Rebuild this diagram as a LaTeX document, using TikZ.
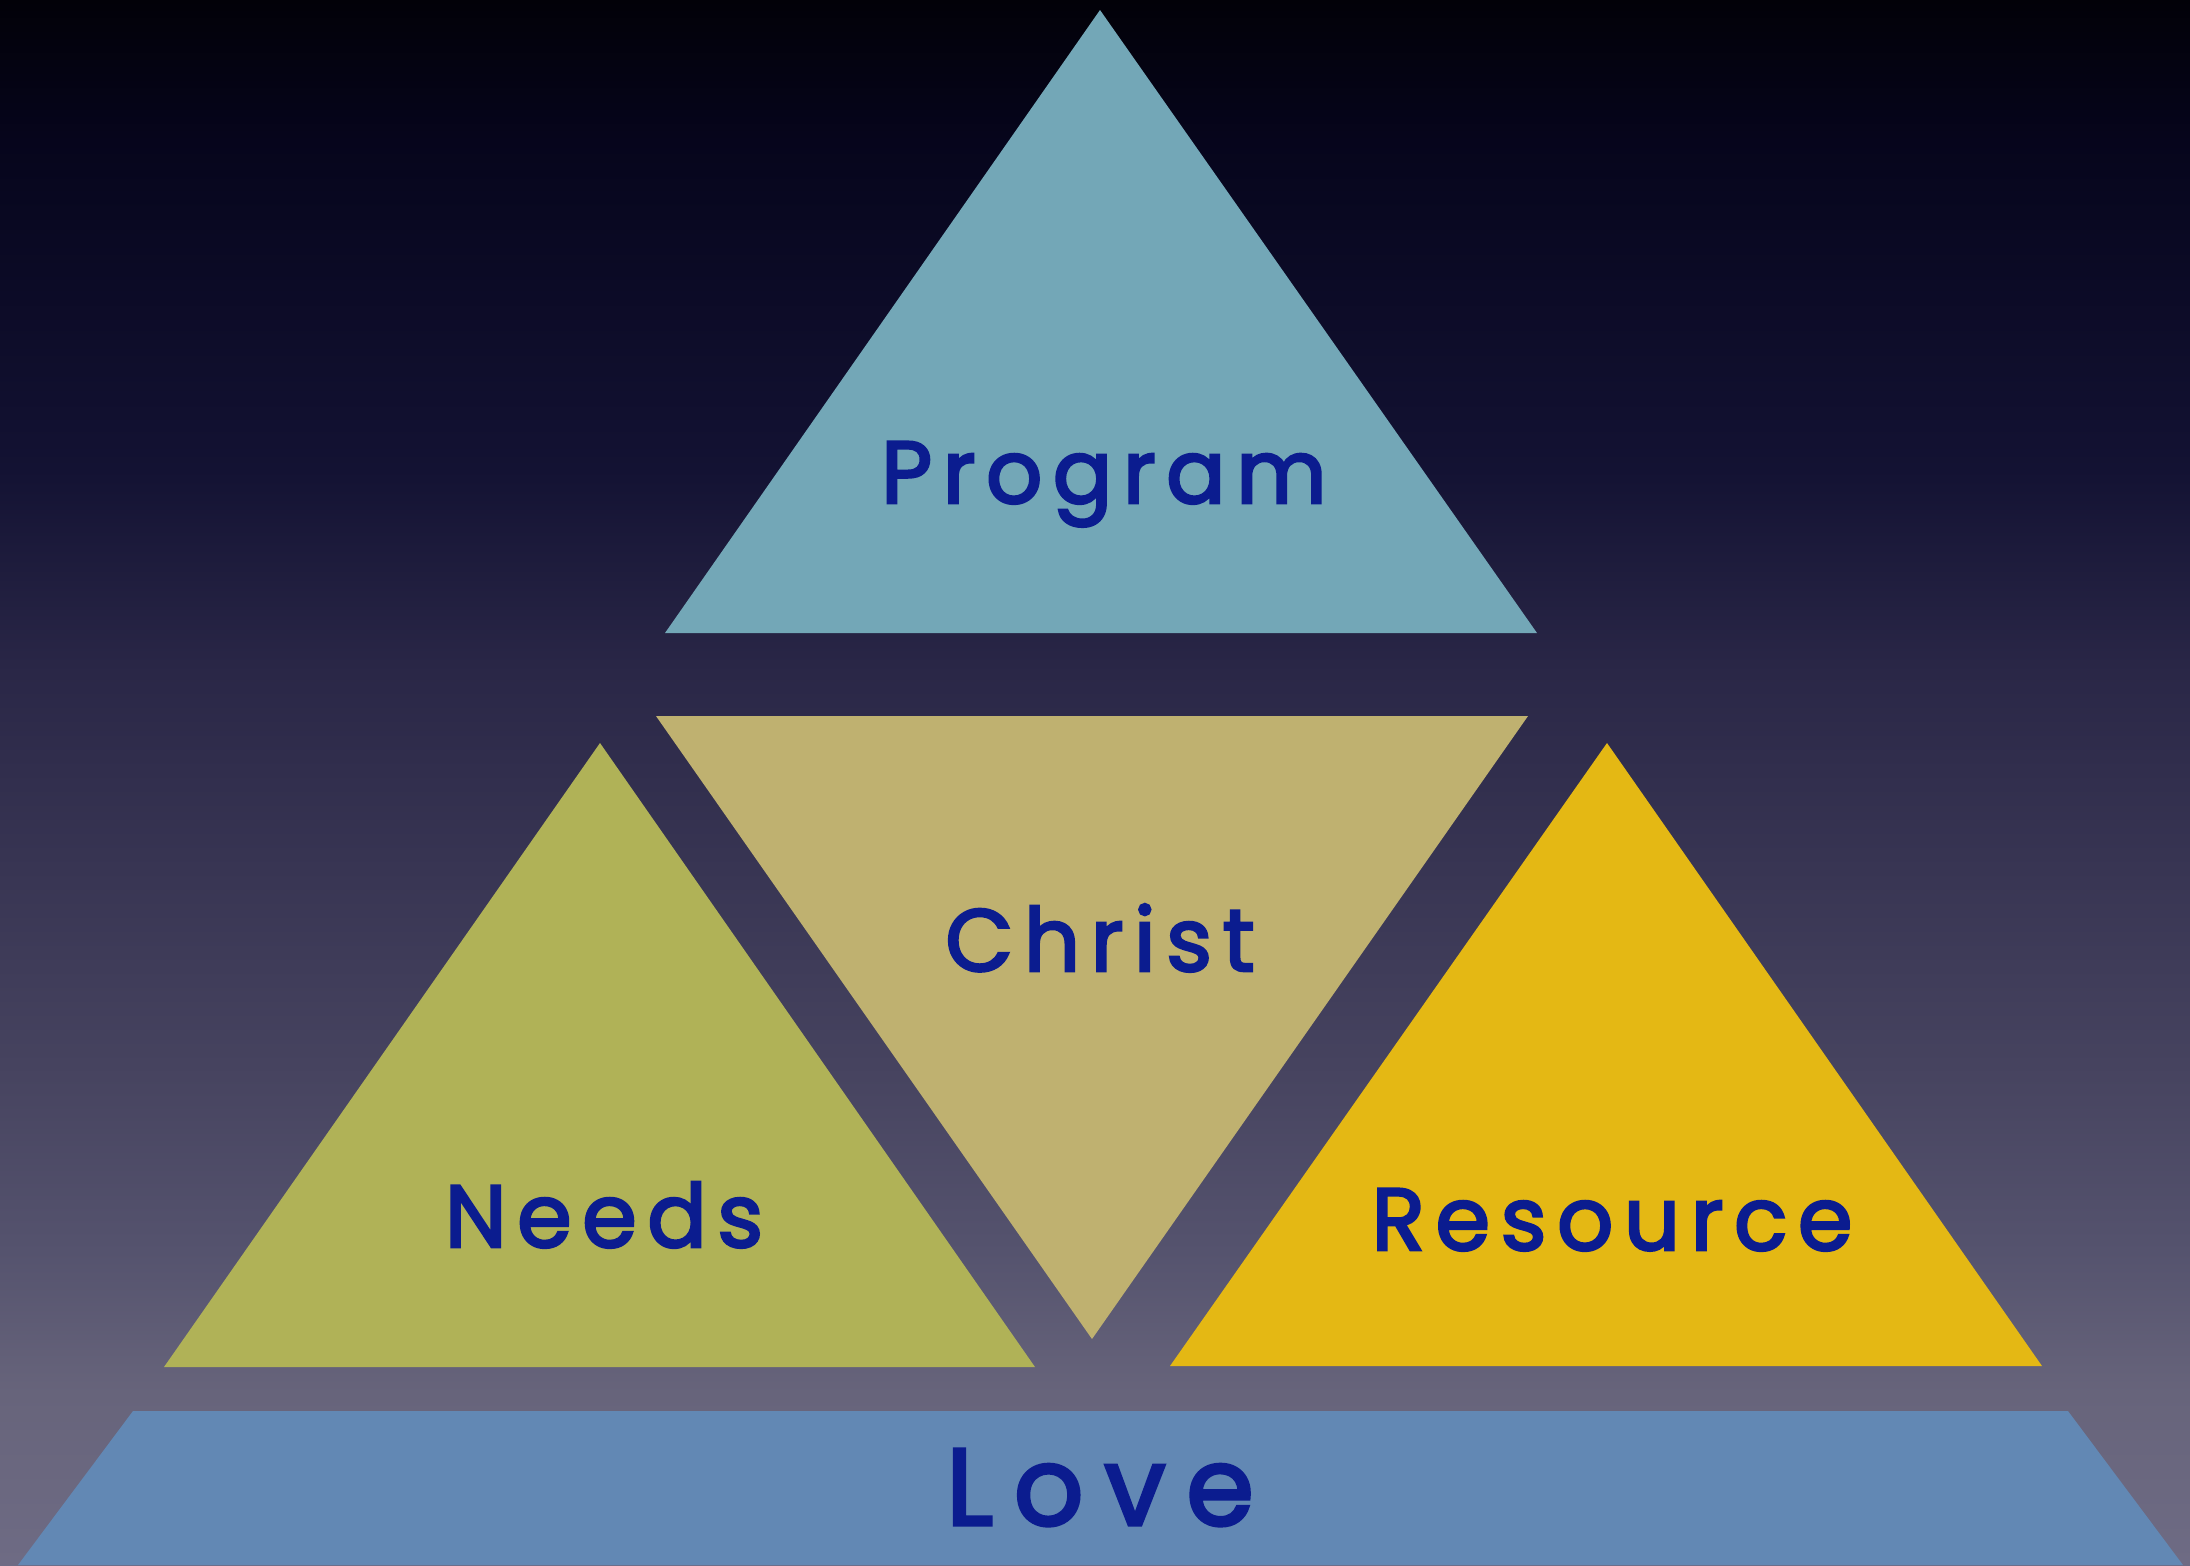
\documentclass[tikz,border=0pt]{standalone}
\usepackage{fontspec}
\setmainfont{Poppins}
\usepackage{tikz}
\usetikzlibrary{calc}

\definecolor{progblue}{HTML}{73A7B7}
\definecolor{christtan}{HTML}{BFB170}
\definecolor{needsgreen}{HTML}{B0B257}
\definecolor{resgold}{HTML}{E4B814}
\definecolor{lovesteel}{HTML}{6288B4}
\definecolor{inkblue}{HTML}{0B1C8F}
% sky, bottom to top
\definecolor{skyA}{HTML}{6E6B84}
\definecolor{skyB}{HTML}{67647B}
\definecolor{skyC}{HTML}{55536E}
\definecolor{skyD}{HTML}{46435F}
\definecolor{skyE}{HTML}{2A2747}
\definecolor{skyF}{HTML}{131233}
\definecolor{skyG}{HTML}{06051C}
\definecolor{skyH}{HTML}{020108}

\pgfdeclareverticalshading{nightsky}{100bp}{%
  color(0bp)=(skyA); color(25bp)=(skyA);
  color(30.5bp)=(skyB); color(35bp)=(skyC); color(41bp)=(skyD);
  color(53.5bp)=(skyE); color(60bp)=(skyF); color(70.5bp)=(skyG);
  color(75bp)=(skyH); color(100bp)=(skyH)}

\tikzset{
  word/.style={text=inkblue, anchor=base, font=\fontsize{25}{30}\selectfont\addfontfeature{LetterSpace=12,FakeBold=3}},
  bigword/.style={word, font=\fontsize{31}{36}\selectfont\addfontfeature{LetterSpace=19,FakeBold=3}}
}

\begin{document}
\begin{tikzpicture}[x=0.01cm, y=-0.01cm]
				\useasboundingbox (0,0) rectangle (2190,1565);
				\shade[shading=nightsky] (0,0) rectangle (2190,1565);
				
				% top
				\fill[progblue] (1100,10) -- (1537,633) -- (665,633) -- cycle;
				% middle, upside down
				\fill[christtan] (656,716) -- (1528,716) -- (1092,1339) -- cycle;
				% left and right
				\fill[needsgreen] (600,743) -- (1035,1367) -- (164,1367) -- cycle;
				\fill[resgold] (1607,743) -- (2042,1366) -- (1170,1366) -- cycle;
				% base
				\fill[lovesteel] (133,1411) -- (2068,1411) -- (2183,1565) -- (18,1565) -- cycle;
				
				\node[word] (program) at (1104,503) {Program};
				\node[word] (christ) at (1100,971) {Christ};
				\node[word] (needs) at (604,1247) {Needs};
				\node[word] (resource) at (1612,1250) {Resource};
				\node[bigword] (love) at (1100,1525) {Love};
			\end{tikzpicture}
\end{document}
